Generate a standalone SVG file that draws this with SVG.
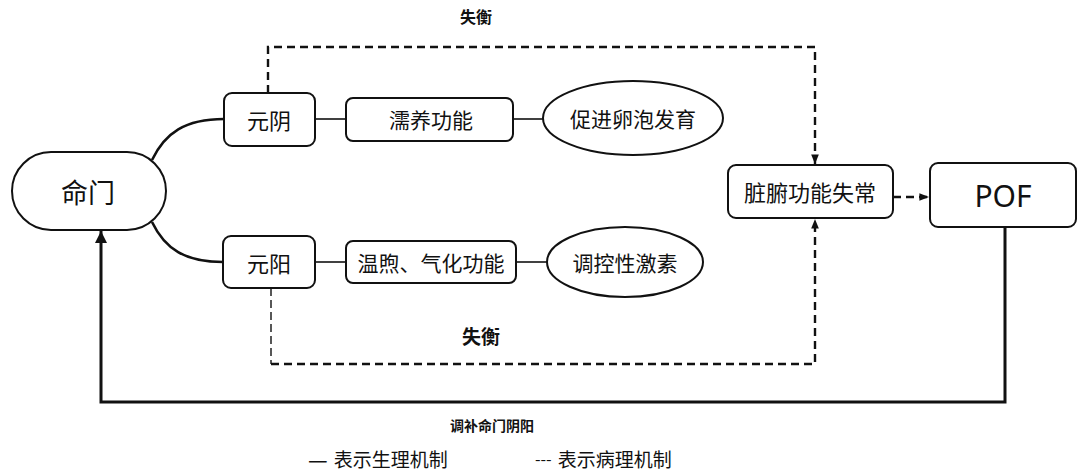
<svg xmlns="http://www.w3.org/2000/svg" width="1079" height="473" viewBox="0 0 1079 473">
<style>
text{font-family:"Noto Sans CJK SC","Noto Sans",sans-serif;fill:#111;text-anchor:middle;dominant-baseline:central}
.box{fill:#fff;stroke:#111;stroke-width:2}
.thin{fill:none;stroke:#111;stroke-width:1.6}
.curve{fill:none;stroke:#111;stroke-width:2.6}
.dash{fill:none;stroke:#111;stroke-width:2.4;stroke-dasharray:8 5}
.dashthin{fill:none;stroke:#111;stroke-width:1.4;stroke-dasharray:8 4}
.solid{fill:none;stroke:#111;stroke-width:3}
.lbl{font-weight:bold}
.leg{font-size:19px;text-anchor:start}
</style>
<defs>
<marker id="ah" viewBox="0 0 10 10" refX="10" refY="5" markerWidth="4" markerHeight="4" orient="auto" markerUnits="strokeWidth">
<path d="M0,1 L10,5 L0,9 Z" fill="#111"/>
</marker>
<marker id="ahBig" viewBox="0 0 10 10" refX="10" refY="5" markerWidth="4.5" markerHeight="4" orient="auto" markerUnits="strokeWidth">
<path d="M0,0 L10,5 L0,10 Z" fill="#111"/>
</marker>
</defs>

<g id="connectors">
<path class="curve" d="M152,160 C165,133 185,119 224,119"/>
<path class="curve" d="M152,222 C165,249 185,262 223,262"/>
<line class="thin" x1="315" y1="119" x2="346" y2="119"/>
<line class="thin" x1="513" y1="119" x2="543" y2="119"/>
<line class="thin" x1="315" y1="262" x2="346" y2="262"/>
<line class="thin" x1="516" y1="262" x2="547" y2="262"/>
<path class="dash" d="M268,93 V47 H815 V164" marker-end="url(#ah)"/>
<path class="dashthin" d="M271,288 V364"/>
<path class="dash" d="M271,364 H815 V219" marker-end="url(#ah)"/>
<path class="dash" d="M893,197 H929" marker-end="url(#ah)"/>
<path class="solid" d="M1005,227 V402 H101 V231" marker-end="url(#ahBig)"/>
</g>

<g id="mingmen">
<rect class="box" x="12" y="152" width="154" height="78" rx="39" ry="39"/>
<text x="88" y="191" font-size="27">命门</text>
</g>
<g id="yuanyin">
<rect class="box" x="224" y="93" width="91" height="53" rx="8"/>
<text x="269" y="119" font-size="22">元阴</text>
</g>
<g id="ruyang">
<rect class="box" x="346" y="98" width="167" height="43" rx="7"/>
<text x="431" y="119" font-size="21">濡养功能</text>
</g>
<g id="cujin">
<ellipse class="box" cx="633" cy="118" rx="90" ry="37"/>
<text x="633" y="118" font-size="21">促进卵泡发育</text>
</g>
<g id="yuanyang">
<rect class="box" x="223" y="236" width="92" height="52" rx="8"/>
<text x="269" y="262" font-size="22">元阳</text>
</g>
<g id="wenxu">
<rect class="box" x="346" y="241" width="170" height="42" rx="7"/>
<text x="431" y="262" font-size="21">温煦、气化功能</text>
</g>
<g id="tiaokong">
<ellipse class="box" cx="625" cy="262" rx="78" ry="35"/>
<text x="625" y="262" font-size="21">调控性激素</text>
</g>
<g id="zangfu">
<rect class="box" x="728" y="165" width="165" height="53" rx="8"/>
<text x="810" y="191" font-size="22">脏腑功能失常</text>
</g>
<g id="pof">
<rect class="box" x="930" y="163" width="146" height="64" rx="8"/>
<text x="1003" y="195" font-size="30" style="font-family:'Noto Sans','Liberation Sans',sans-serif">POF</text>
</g>

<g id="labels">
<text class="lbl" x="476" y="16" font-size="16">失衡</text>
<text x="481" y="335" font-size="19" font-weight="bold">失衡</text>
<text class="lbl" x="492" y="425" font-size="14">调补命门阴阳</text>
<text class="leg" x="308" y="458"><tspan font-size="22">—</tspan><tspan dx="6">表示生理机制</tspan></text>
<text class="leg" x="535" y="458"><tspan font-size="16">---</tspan><tspan dx="6">表示病理机制</tspan></text>
</g>
</svg>
